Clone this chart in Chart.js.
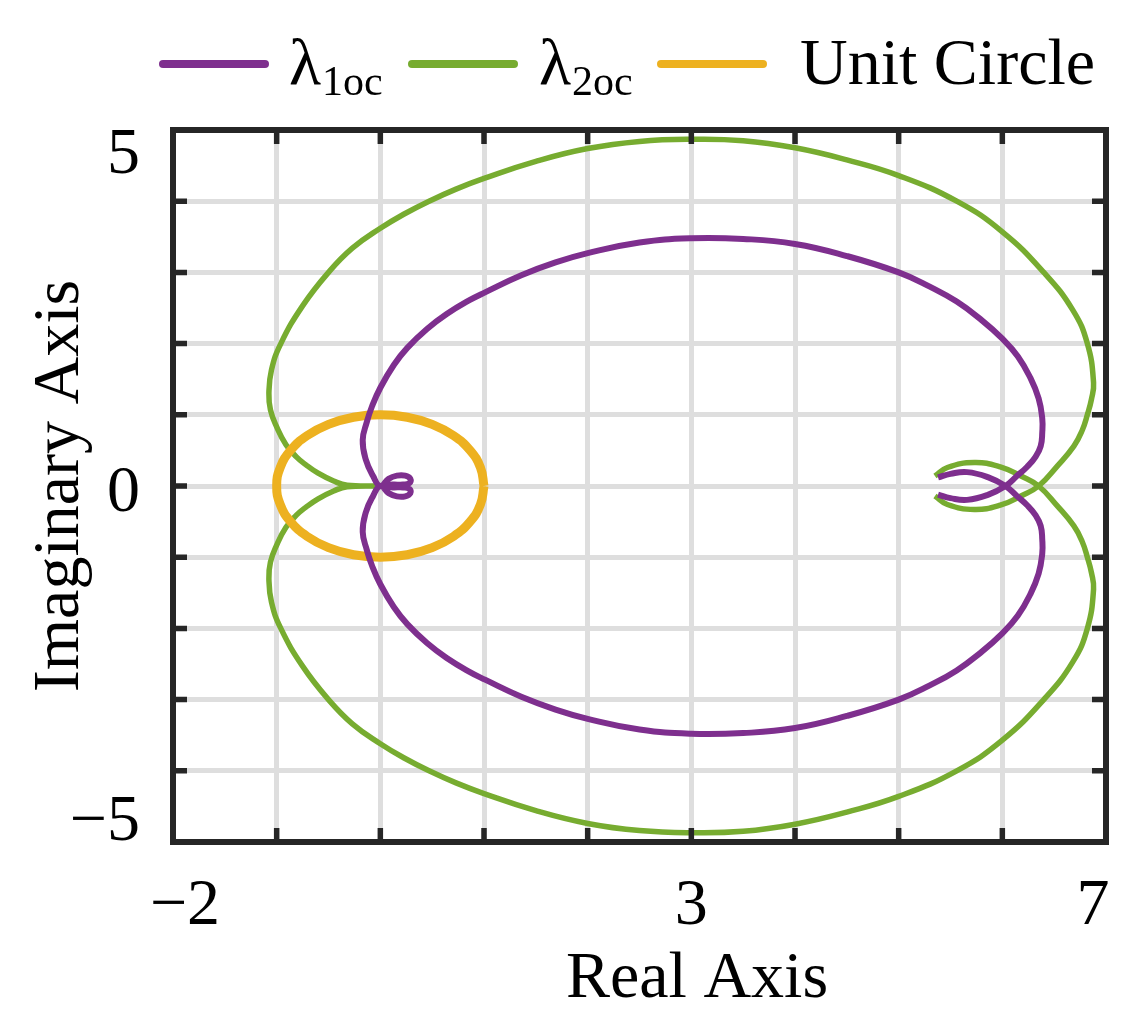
<!DOCTYPE html>
<html>
<head>
<meta charset="utf-8">
<script src="https://cdn.jsdelivr.net/npm/chart.js@4"></script>
<style>
  html, body { margin: 0; padding: 0; background: #fff; }
  #wrap { width: 1146px; height: 1026px; }
</style>
</head>
<body>
<div id="wrap"><canvas id="nyquist" width="1146" height="1026"></canvas></div>
<script>
// lambda_1oc: real / imaginary parts
const lambda1Re = [5.38, 5.50, 5.66, 5.86, 6.03,
  6.14, 6.24, 6.32, 6.37, 6.385, 6.385, 6.35, 6.27, 6.15, 6.00, 5.80, 5.56, 5.30, 5.00, 4.50, 4.00, 3.50, 3.00, 2.50, 2.00, 1.69, 1.36, 1.01, 0.86, 0.64, 0.45, 0.26, 0.13, 0.00, -0.08, -0.13, -0.17, -0.14, -0.07, 0.00,
  0.08, 0.16, 0.24, 0.29, 0.28, 0.22, 0.12, 0.04, 0.00, 0.04, 0.12, 0.22, 0.28, 0.29, 0.24, 0.16, 0.08, 0.00,
  -0.07, -0.14, -0.17, -0.13, -0.08, 0.00, 0.13, 0.26, 0.45, 0.64, 0.86, 1.01, 1.36, 1.69, 2.00, 2.50, 3.00, 3.50, 4.00, 4.50, 5.00, 5.30, 5.56, 5.80, 6.00, 6.15, 6.27, 6.35, 6.385, 6.385, 6.37, 6.32, 6.24, 6.14, 6.03,
  5.86, 5.66, 5.50, 5.38];
const lambda1Im = [0.12, 0.17, 0.195, 0.125, 0.00,
  -0.14, -0.27, -0.41, -0.56, -0.75, -0.95, -1.23, -1.52, -1.82, -2.07, -2.33, -2.59, -2.80, -3.00, -3.23, -3.40, -3.47, -3.48, -3.42, -3.27, -3.14, -2.96, -2.72, -2.61, -2.415, -2.205, -1.94, -1.70, -1.38, -1.12, -0.90, -0.645, -0.37, -0.14, 0.00,
  -0.10, -0.145, -0.145, -0.10, -0.04, -0.02, -0.02, -0.01, 0.00, 0.01, 0.02, 0.02, 0.04, 0.10, 0.145, 0.145, 0.10, 0.00,
  0.14, 0.37, 0.645, 0.90, 1.12, 1.38, 1.70, 1.94, 2.205, 2.415, 2.61, 2.72, 2.96, 3.14, 3.27, 3.42, 3.48, 3.47, 3.40, 3.23, 3.00, 2.80, 2.59, 2.33, 2.07, 1.82, 1.52, 1.23, 0.95, 0.75, 0.56, 0.41, 0.27, 0.14, 0.00,
  -0.125, -0.195, -0.17, -0.12];

// lambda_2oc
const lambda2Re = [5.35, 5.47, 5.73, 5.98, 6.18, 6.35,
  6.53, 6.69, 6.77, 6.82, 6.86, 6.88, 6.82, 6.68, 6.40, 6.00, 5.56, 5.00, 4.50, 4.00, 3.50, 3.00, 2.50, 2.00, 1.50, 1.00, 0.73, 0.47, 0.23, 0.00, -0.27, -0.50, -0.75, -0.96, -1.05, -1.075, -1.06, -1.00, -0.91, -0.81, -0.72, -0.60, -0.45, -0.32,
  -0.02,
  -0.32, -0.45, -0.60, -0.72, -0.81, -0.91, -1.00, -1.06, -1.075, -1.05, -0.96, -0.75, -0.50, -0.27, 0.00, 0.23, 0.47, 0.73, 1.00, 1.50, 2.00, 2.50, 3.00, 3.50, 4.00, 4.50, 5.00, 5.56, 6.00, 6.40, 6.68, 6.82, 6.88, 6.86, 6.82, 6.77, 6.69, 6.53, 6.35,
  6.18, 5.98, 5.73, 5.47, 5.35];
const lambda2Im = [0.14, 0.26, 0.33, 0.27, 0.14, 0.00,
  -0.28, -0.56, -0.78, -1.00, -1.22, -1.45, -2.00, -2.47, -3.00, -3.57, -4.00, -4.36, -4.58, -4.75, -4.85, -4.87, -4.84, -4.74, -4.56, -4.32, -4.17, -4.00, -3.82, -3.62, -3.34, -3.00, -2.53, -2.00, -1.63, -1.30, -1.07, -0.83, -0.58, -0.41, -0.30, -0.18, -0.07, -0.01,
  0.00,
  0.01, 0.07, 0.18, 0.30, 0.41, 0.58, 0.83, 1.07, 1.30, 1.63, 2.00, 2.53, 3.00, 3.34, 3.62, 3.82, 4.00, 4.17, 4.32, 4.56, 4.74, 4.84, 4.87, 4.85, 4.75, 4.58, 4.36, 4.00, 3.57, 3.00, 2.47, 2.00, 1.45, 1.22, 1.00, 0.78, 0.56, 0.28, 0.00,
  -0.14, -0.27, -0.33, -0.26, -0.14];

// unit circle
const circleRe = [1, 0.966, 0.866, 0.707, 0.5, 0.259, 0, -0.259, -0.5, -0.707, -0.866, -0.966, -1, -0.966, -0.866, -0.707, -0.5, -0.259, 0, 0.259, 0.5, 0.707, 0.866, 0.966, 1];
const circleIm = [0, 0.259, 0.5, 0.707, 0.866, 0.966, 1, 0.966, 0.866, 0.707, 0.5, 0.259, 0, -0.259, -0.5, -0.707, -0.866, -0.966, -1, -0.966, -0.866, -0.707, -0.5, -0.259, 0];

const xTickLabels = [-2, 3, 7];
const yTickLabels = [-5, 0, 5];
const legendMain = ['λ', 'λ', 'Unit Circle'];
const legendSub = ['1oc', '2oc', ''];

const COLORS = ['#7E2F8E', '#77AC30', '#EDB120'];
const FRAME = '#262626';
const FONT = '"Liberation Serif", "Times New Roman", serif';

function toPoints(re, im) {
    return re.map((x, i) => ({ x: x, y: im[i] }));
}

function fmt(v) {
    return v < 0 ? '\u2212' + Math.abs(v) : String(v);
}

// frame, inward ticks, labels and legend (MATLAB look)
const decorPlugin = {
    id: 'decor',
    afterDraw(chart) {
        const ctx = chart.ctx;
        const a = chart.chartArea;
        const xs = chart.scales.x;
        const ys = chart.scales.y;
        const TICK = 14;

        ctx.save();
        ctx.strokeStyle = FRAME;
        ctx.lineWidth = 6;
        ctx.strokeRect(a.left, a.top, a.right - a.left, a.bottom - a.top);

        ctx.lineWidth = 5.5;
        ctx.beginPath();
        for (let v = xs.min + 1; v < xs.max; v++) {
            const px = xs.getPixelForValue(v);
            ctx.moveTo(px, a.bottom); ctx.lineTo(px, a.bottom - TICK);
            ctx.moveTo(px, a.top); ctx.lineTo(px, a.top + TICK);
        }
        for (let v = ys.min + 1; v < ys.max; v++) {
            const py = ys.getPixelForValue(v);
            ctx.moveTo(a.left, py); ctx.lineTo(a.left + TICK, py);
            ctx.moveTo(a.right, py); ctx.lineTo(a.right - TICK, py);
        }
        ctx.stroke();

        // tick labels
        ctx.fillStyle = '#000';
        ctx.font = '66px ' + FONT;
        ctx.textBaseline = 'alphabetic';
        ctx.textAlign = 'center';
        xTickLabels.forEach(v => {
            let px = xs.getPixelForValue(v);
            px = Math.min(Math.max(px, a.left + 12), a.right - 13);
            ctx.fillText(fmt(v), px, 924);
        });
        ctx.textAlign = 'right';
        yTickLabels.forEach(v => {
            let py = ys.getPixelForValue(v) + 25;
            py = Math.min(Math.max(py, a.top + 43), a.bottom - 2);
            ctx.fillText(fmt(v), 140, py);
        });

        // axis titles
        ctx.textAlign = 'center';
        ctx.fillText('Real Axis', 697, 997);
        ctx.save();
        ctx.translate(78, (a.top + a.bottom) / 2);
        ctx.rotate(-Math.PI / 2);
        ctx.fillText('Imaginary Axis', 0, 0);
        ctx.restore();

        // legend
        const lineX = [163, 412, 661];
        const textX = [289, 539, 800];
        ctx.lineCap = 'round';
        ctx.lineWidth = 8;
        ctx.textAlign = 'left';
        legendMain.forEach((label, i) => {
            ctx.strokeStyle = COLORS[i];
            ctx.beginPath();
            ctx.moveTo(lineX[i], 64);
            ctx.lineTo(lineX[i] + 102, 64);
            ctx.stroke();
            ctx.font = '66px ' + FONT;
            ctx.fillText(label, textX[i], 84);
            if (legendSub[i]) {
                const w = ctx.measureText(label).width;
                ctx.font = '42px ' + FONT;
                ctx.fillText(legendSub[i], textX[i] + w + 1, 95);
            }
        });
        ctx.restore();
    }
};

function axis(min, max, horizontal) {
    return {
        type: 'linear',
        min: min,
        max: max,
        ticks: { display: false, stepSize: 1 },
        grid: { color: '#dedede', lineWidth: 5, drawTicks: false },
        border: { display: false },
        afterFit(scale) {
            if (horizontal) scale.height = 0; else scale.width = 0;
        }
    };
}

new Chart(document.getElementById('nyquist'), {
    type: 'scatter',
    data: {
        datasets: [
            {
                label: 'λ1oc',
                data: toPoints(lambda1Re, lambda1Im),
                borderColor: COLORS[0],
                borderWidth: 6,
                showLine: true,
                pointRadius: 0,
                tension: 0.45,
                order: 0
            },
            {
                label: 'λ2oc',
                data: toPoints(lambda2Re, lambda2Im),
                borderColor: COLORS[1],
                borderWidth: 5.5,
                showLine: true,
                pointRadius: 0,
                tension: 0.45,
                order: 2
            },
            {
                label: 'Unit Circle',
                data: toPoints(circleRe, circleIm),
                borderColor: COLORS[2],
                borderWidth: 9,
                showLine: true,
                pointRadius: 0,
                tension: 0.45,
                order: 1
            }
        ]
    },
    options: {
        responsive: false,
        animation: false,
        devicePixelRatio: 1,
        layout: { padding: { left: 173, top: 130, right: 40, bottom: 184 } },
        plugins: {
            legend: { display: false },
            tooltip: { enabled: false }
        },
        scales: {
            x: axis(-2, 7, true),
            y: axis(-5, 5, false)
        }
    },
    plugins: [decorPlugin]
});
</script>
</body>
</html>
